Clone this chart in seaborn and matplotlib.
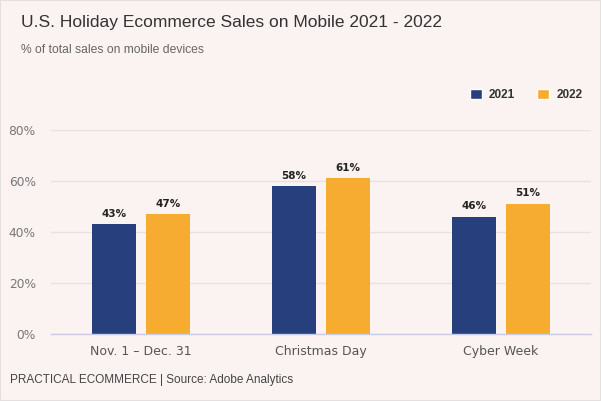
import pandas as pd
import matplotlib.pyplot as plt
import seaborn as sns
from matplotlib.patches import Patch, Rectangle

# data
periods = ["Nov. 1 – Dec. 31", "Christmas Day", "Cyber Week"]
years = ["2021", "2022"]
share_2021 = [43, 58, 46]
share_2022 = [47, 61, 51]
y_ticks = [0, 20, 40, 60, 80]

df = pd.DataFrame({
    "period": periods * 2,
    "year": [years[0]] * 3 + [years[1]] * 3,
    "share": share_2021 + share_2022,
})

bg = "#fbf3f1"
colors = {"2021": "#283f7e", "2022": "#f6ab31"}

sns.set_theme(style="white")
plt.rcParams["font.family"] = ["DejaVu Sans"]

fig = plt.figure(figsize=(6.01, 4.01), dpi=100, facecolor=bg)
ax = fig.add_axes([51 / 601, 67 / 401, 540 / 601, 204 / 401])
ax.set_facecolor(bg)

sns.barplot(data=df, x="period", y="share", hue="year", palette=colors,
            width=0.6, gap=0.2, saturation=1, linewidth=0, legend=False, ax=ax)

for cont, vals in zip(ax.containers, [share_2021, share_2022]):
    ax.bar_label(cont, labels=[f"{v}%" for v in vals], padding=4,
                 fontsize=7.5, fontweight="bold", color="#222222")

ax.set_xlim(-0.5, 2.5)
ax.set_ylim(0, 80)
ax.set_yticks(y_ticks)
ax.set_yticklabels([f"{t}%" for t in y_ticks])
ax.yaxis.grid(True, color="#e8e1df", linewidth=1)
ax.set_axisbelow(True)
for s in ["top", "right", "left"]:
    ax.spines[s].set_visible(False)
ax.spines["bottom"].set_color("#c9cce6")
ax.spines["bottom"].set_linewidth(1)
ax.tick_params(axis="both", length=0)
ax.tick_params(axis="y", labelsize=8.8, labelcolor="#777777", pad=11)
ax.tick_params(axis="x", labelsize=9, labelcolor="#555555", pad=8)
ax.set_xlabel("")
ax.set_ylabel("")

# titles
fig.text(21 / 601, 1 - 23 / 401, "U.S. Holiday Ecommerce Sales on Mobile 2021 - 2022",
         family="Liberation Sans", fontsize=12.5, color="#333333", va="center")
fig.text(21 / 601, 1 - 50 / 401, "% of total sales on mobile devices",
         family="Liberation Sans", fontsize=8.7, color="#666666", va="center")
fig.text(10 / 601, 1 - 380 / 401, "PRACTICAL ECOMMERCE | Source: Adobe Analytics",
         family="Liberation Sans", fontsize=8.5, color="#444444", va="center")

# legend
handles = [Patch(facecolor=colors[y], label=y) for y in years]
leg = fig.legend(handles=handles, loc="center right",
                 bbox_to_anchor=(593 / 601, 1 - 95 / 401), ncol=2, frameon=False,
                 handlelength=1.0, handleheight=1.0, handletextpad=0.6,
                 columnspacing=1.9, prop={"family": "Liberation Sans", "weight": "bold", "size": 8.5})
for t in leg.get_texts():
    t.set_color("#333333")

fig.patches.append(Rectangle((0, 0), 1, 1, transform=fig.transFigure, fill=False,
                             edgecolor="#e4e0df", linewidth=1.5))

fig.savefig("out.png", dpi=100, facecolor=bg)
